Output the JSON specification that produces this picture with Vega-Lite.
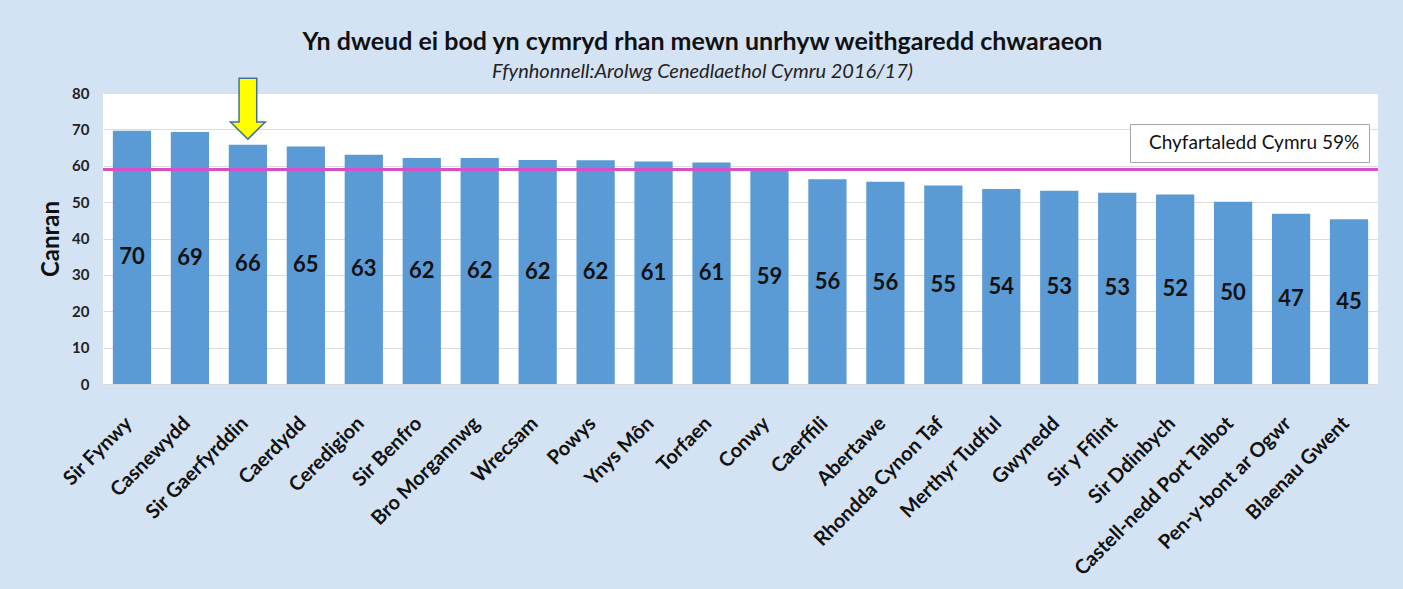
{
  "$schema": "https://vega.github.io/schema/vega-lite/v6.json",
  "width": 1275,
  "height": 291,
  "autosize": {"type": "none"},
  "padding": {"left": 103, "top": 93, "right": 25, "bottom": 205},
  "background": "#d4e3f3",
  "title": {
    "text": "Yn dweud ei bod yn cymryd rhan mewn unrhyw weithgaredd chwaraeon",
    "subtitle": "Ffynhonnell:Arolwg Cenedlaethol Cymru 2016/17)",
    "anchor": "middle",
    "dx": -38,
    "offset": -7,
    "font": "Lato",
    "fontSize": 25,
    "fontWeight": "bold",
    "color": "#111111",
    "subtitleFont": "Lato",
    "subtitleFontSize": 20,
    "subtitleFontStyle": "italic",
    "subtitleColor": "#222222",
    "subtitlePadding": 7
  },
  "config": {
    "view": {"fill": "#ffffff", "stroke": null},
    "axis": {"labelFont": "Lato", "titleFont": "Lato"}
  },
  "data": {
    "values": [
      {"name": "Sir Fynwy", "value": 69.6},
      {"name": "Casnewydd", "value": 69.3},
      {"name": "Sir Gaerfyrddin", "value": 65.8},
      {"name": "Caerdydd", "value": 65.3},
      {"name": "Ceredigion", "value": 63.0},
      {"name": "Sir Benfro", "value": 62.1},
      {"name": "Bro Morgannwg", "value": 62.1},
      {"name": "Wrecsam", "value": 61.6},
      {"name": "Powys", "value": 61.5},
      {"name": "Ynys Môn", "value": 61.2},
      {"name": "Torfaen", "value": 60.9},
      {"name": "Conwy", "value": 58.9},
      {"name": "Caerffili", "value": 56.3},
      {"name": "Abertawe", "value": 55.6},
      {"name": "Rhondda Cynon Taf", "value": 54.6},
      {"name": "Merthyr Tudful", "value": 53.6},
      {"name": "Gwynedd", "value": 53.1},
      {"name": "Sir y Fflint", "value": 52.6},
      {"name": "Sir Ddinbych", "value": 52.1},
      {"name": "Castell-nedd Port Talbot", "value": 50.1},
      {"name": "Pen-y-bont ar Ogwr", "value": 46.8},
      {"name": "Blaenau Gwent", "value": 45.3}
    ]
  },
  "encoding": {
    "x": {
      "field": "name",
      "type": "nominal",
      "sort": null,
      "scale": {"paddingInner": 0.34, "paddingOuter": 0.17},
      "axis": {
        "title": null,
        "labelAngle": -45,
        "labelAlign": "right",
        "labelBaseline": "top",
        "labelFontSize": 20,
        "labelFontWeight": "bold",
        "labelColor": "#111111",
        "labelOffset": -10,
        "labelPadding": 29,
        "labelLimit": 400,
        "labelOverlap": false,
        "ticks": false,
        "domainColor": "#d9d9d9"
      }
    }
  },
  "layer": [
    {
      "mark": {"type": "bar", "color": "#5b9bd5"},
      "encoding": {
        "y": {
          "field": "value",
          "type": "quantitative",
          "scale": {"domain": [0, 80]},
          "axis": {
            "title": "Canran",
            "titleFontSize": 24,
            "titleFontWeight": "bold",
            "titleColor": "#111111",
            "titlePadding": 8,
            "values": [0, 10, 20, 30, 40, 50, 60, 70, 80],
            "labelOverlap": false,
            "labelFontSize": 15,
            "labelFontWeight": "bold",
            "labelColor": "#222222",
            "labelPadding": 14,
            "ticks": false,
            "domain": false,
            "gridColor": "#dcdcdc"
          }
        }
      }
    },
    {
      "mark": {"type": "text", "font": "Lato", "fontSize": 22, "fontWeight": "bold", "color": "#111111", "baseline": "middle"},
      "encoding": {
        "y": {"field": "value", "type": "quantitative", "scale": {"domain": [0, 160]}, "axis": null},
        "text": {"field": "value", "type": "quantitative", "format": ".0f"}
      }
    },
    {
      "mark": {"type": "rule", "strokeWidth": 3},
      "encoding": {
        "x": {},
        "y": {"datum": 59, "type": "quantitative", "scale": {"domain": [0, 80]}, "axis": null},
        "color": {
          "datum": "Chyfartaledd Cymru 59%",
          "type": "nominal",
          "scale": {"range": ["#d94fc8"]},
          "legend": {
            "title": null,
            "orient": "none",
            "legendX": 1027,
            "legendY": 31,
            "fillColor": "#ffffff",
            "strokeColor": "#a6a6a6",
            "padding": 9,
            "labelFont": "Lato",
            "labelFontSize": 19,
            "labelColor": "#111111",
            "labelLimit": 400,
            "labelOffset": -9,
            "symbolSize": 0,
            "symbolOpacity": 0,
            "symbolStrokeWidth": 0
          }
        }
      }
    },
    {
      "transform": [{"filter": "datum.name === 'Sir Gaerfyrddin'"}],
      "mark": {
        "type": "point",
        "shape": "M-0.29,-1 L0.29,-1 L0.29,0.44 L0.57,0.44 L0,1 L-0.57,0.44 L-0.29,0.44 Z",
        "size": 3721,
        "filled": true,
        "fill": "#ffff00",
        "stroke": "#41719c",
        "strokeWidth": 1.5,
        "opacity": 1
      },
      "encoding": {
        "y": {"datum": 75.7, "type": "quantitative", "scale": {"domain": [0, 80]}, "axis": null}
      }
    }
  ],
  "resolve": {"scale": {"y": "independent"}}
}
